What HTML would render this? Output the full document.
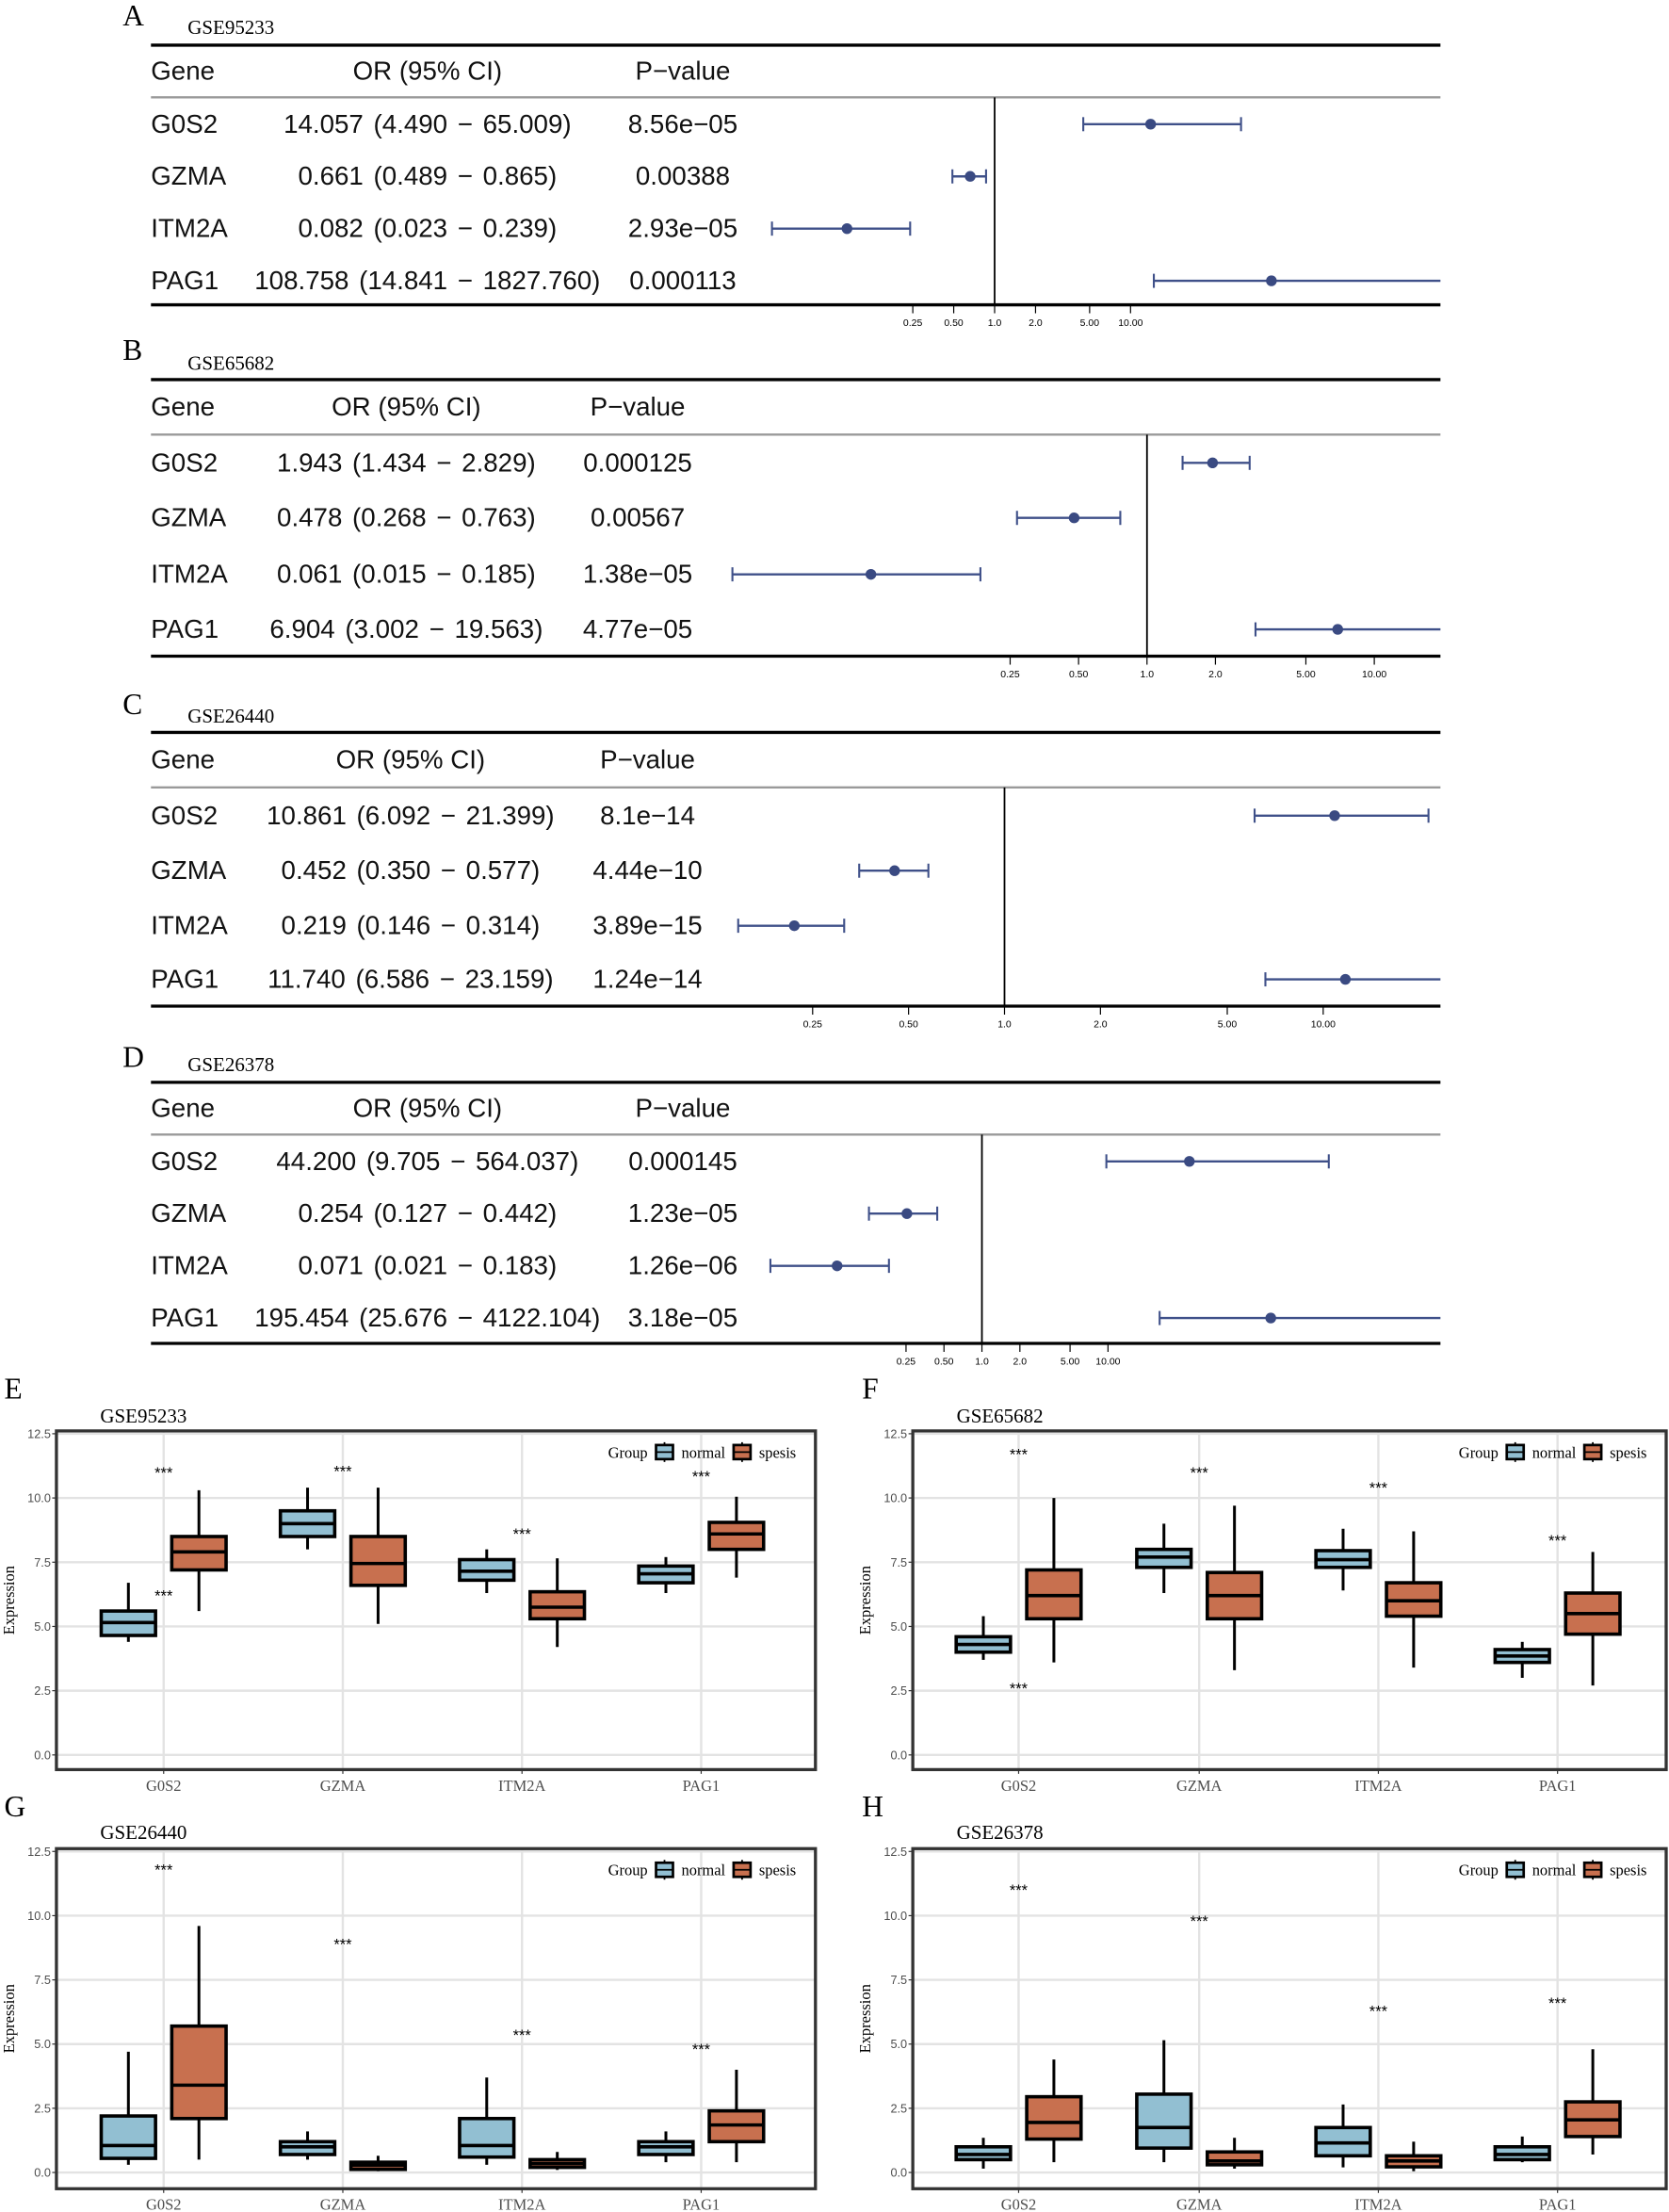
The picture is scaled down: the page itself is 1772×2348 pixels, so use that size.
<!DOCTYPE html>
<html><head><meta charset="utf-8">
<style>html,body{margin:0;padding:0;background:#fff;}svg{display:block;}</style>
</head><body>
<svg id="fig" xmlns="http://www.w3.org/2000/svg" width="1772" height="2348" viewBox="0 0 1183 1567.5" preserveAspectRatio="none"></svg>
<script>
// ---------- Forest plot data ----------
const genes = ["G0S2","GZMA","ITM2A","PAG1"];
const forestTitles = ["GSE95233","GSE65682","GSE26440","GSE26378"];
const forestLetters = ["A","B","C","D"];
const orA = [14.057,0.661,0.082,108.758], loA = [4.490,0.489,0.023,14.841], hiA = [65.009,0.865,0.239,1827.760];
const orB = [1.943,0.478,0.061,6.904], loB = [1.434,0.268,0.015,3.002], hiB = [2.829,0.763,0.185,19.563];
const orC = [10.861,0.452,0.219,11.740], loC = [6.092,0.350,0.146,6.586], hiC = [21.399,0.577,0.314,23.159];
const orD = [44.200,0.254,0.071,195.454], loD = [9.705,0.127,0.021,25.676], hiD = [564.037,0.442,0.183,4122.104];
const orTextA = ["14.057 (4.490 − 65.009)","0.661 (0.489 − 0.865)","0.082 (0.023 − 0.239)","108.758 (14.841 − 1827.760)"];
const orTextB = ["1.943 (1.434 − 2.829)","0.478 (0.268 − 0.763)","0.061 (0.015 − 0.185)","6.904 (3.002 − 19.563)"];
const orTextC = ["10.861 (6.092 − 21.399)","0.452 (0.350 − 0.577)","0.219 (0.146 − 0.314)","11.740 (6.586 − 23.159)"];
const orTextD = ["44.200 (9.705 − 564.037)","0.254 (0.127 − 0.442)","0.071 (0.021 − 0.183)","195.454 (25.676 − 4122.104)"];
const pA = ["8.56e−05","0.00388","2.93e−05","0.000113"];
const pB = ["0.000125","0.00567","1.38e−05","4.77e−05"];
const pC = ["8.1e−14","4.44e−10","3.89e−15","1.24e−14"];
const pD = ["0.000145","1.23e−05","1.26e−06","3.18e−05"];
const forestTicks = [0.25,0.5,1,2,5,10];
const forestTickLabels = ["0.25","0.50","1.0","2.0","5.00","10.00"];

// ---------- Box plot data: [whiskerLow, q1, median, q3, whiskerHigh] ----------
const boxCats = ["G0S2","GZMA","ITM2A","PAG1"];
const boxTitles = ["GSE95233","GSE65682","GSE26440","GSE26378"];
const boxLetters = ["E","F","G","H"];
const yTicks = [0,2.5,5,7.5,10,12.5];
const yTickLabels = ["0.0","2.5","5.0","7.5","10.0","12.5"];
const normalE = [[4.4,4.65,5.15,5.6,6.7],[8.0,8.5,9.0,9.5,10.4],[6.3,6.8,7.15,7.6,8.0],[6.3,6.7,7.05,7.35,7.7]];
const spesisE = [[5.6,7.2,7.9,8.5,10.3],[5.1,6.6,7.45,8.5,10.4],[4.2,5.3,5.75,6.35,7.65],[6.9,8.0,8.6,9.05,10.05]];
const normalF = [[3.7,4.0,4.3,4.6,5.4],[6.3,7.3,7.7,8.0,9.0],[6.4,7.3,7.6,7.95,8.8],[3.0,3.6,3.85,4.1,4.4]];
const spesisF = [[3.6,5.3,6.2,7.2,10.0],[3.3,5.3,6.2,7.1,9.7],[3.4,5.4,6.0,6.7,8.7],[2.7,4.7,5.5,6.3,7.9]];
const normalG = [[0.3,0.55,1.05,2.2,4.7],[0.5,0.7,1.0,1.2,1.6],[0.3,0.6,1.05,2.1,3.7],[0.4,0.7,1.0,1.2,1.6]];
const spesisG = [[0.5,2.1,3.4,5.7,9.6],[0.05,0.12,0.28,0.4,0.65],[0.1,0.2,0.35,0.5,0.8],[0.4,1.2,1.85,2.4,4.0]];
const normalH = [[0.15,0.5,0.7,1.0,1.35],[0.4,0.95,1.75,3.05,5.15],[0.2,0.65,1.15,1.75,2.65],[0.4,0.5,0.7,1.0,1.4]];
const spesisH = [[0.4,1.3,1.95,2.95,4.4],[0.15,0.3,0.45,0.8,1.35],[0.05,0.22,0.45,0.65,1.2],[0.7,1.4,2.05,2.75,4.8]];
const starsE = [11.0,11.05,8.6,10.85];
const starsF = [11.7,11.0,10.4,8.35];
const starsG = [11.8,8.9,5.35,4.8];
const starsH = [11.0,9.8,6.3,6.6];
const extraStarE = 6.2, extraStarF = 2.6;

const NS = "http://www.w3.org/2000/svg";
const svg = document.getElementById("fig");
function mk(tag, attrs, parent){
  const e = document.createElementNS(NS, tag);
  for (const k in attrs) e.setAttribute(k, attrs[k]);
  (parent||svg).appendChild(e);
  return e;
}
function txt(s, attrs, parent){ const t = mk("text", attrs, parent); t.textContent = s; return t; }

// ---------- Forest panels ----------
const forestLayout = [
  {top:32, ref:705, pxPerLog2:29,  orX:303, pX:484, letterY:18, titleY:24, rows:[88,125,162,199], gray:69, bottom:216},
  {top:269, ref:813, pxPerLog2:48.5, orX:288, pX:452, letterY:255, titleY:262, rows:[328,367,407,446], gray:308, bottom:465},
  {top:519, ref:712, pxPerLog2:68, orX:291, pX:459, letterY:506, titleY:512, rows:[578,617,656,694], gray:558, bottom:713},
  {top:767, ref:696, pxPerLog2:26.9, orX:303, pX:484, letterY:756, titleY:759, rows:[823,860,897,934], gray:804, bottom:952}
];
const forestData = [
  [orA,loA,hiA,orTextA,pA],[orB,loB,hiB,orTextB,pB],[orC,loC,hiC,orTextC,pC],[orD,loD,hiD,orTextD,pD]
];
const FL = 107, FR = 1021;
forestLayout.forEach((L, i) => {
  const g = mk("g", {});
  
  
  const xs = v => L.ref + Math.log2(v) * L.pxPerLog2;
  const clip = x => Math.max(FL, Math.min(FR, x));
  const let_ = txt(forestLetters[i], {x:87, y:L.letterY, "font-family":"Liberation Serif, serif", "font-size":21}, g);
  
  
  const tt = txt(forestTitles[i], {x:133, y:L.titleY, "font-family":"Liberation Serif, serif", "font-size":14}, g);
  
  
  mk("line", {x1:FL, x2:FR, y1:L.top, y2:L.top, stroke:"#000", "stroke-width":2.2}, g);
  mk("line", {x1:FL, x2:FR, y1:L.gray, y2:L.gray, stroke:"#9a9a9a", "stroke-width":1.6}, g);
  mk("line", {x1:FL, x2:FR, y1:L.bottom, y2:L.bottom, stroke:"#000", "stroke-width":2.2}, g);
  const hy = (L.top + L.gray)/2 + 6;
  const sf = {"font-family":"Liberation Sans, sans-serif", "font-size":18.5, fill:"#111"};
  const h1 = txt("Gene", Object.assign({x:FL, y:hy}, sf), g);
  
  
  const h2 = txt("OR (95% CI)", Object.assign({x:L.orX, y:hy, "text-anchor":"middle"}, sf), g);
  
  
  const h3 = txt("P−value", Object.assign({x:L.pX, y:hy, "text-anchor":"middle"}, sf), g);
  
  
  mk("line", {x1:L.ref, x2:L.ref, y1:L.gray, y2:L.bottom, stroke:"#000", "stroke-width":1.2}, g);
  const [ors, los, his, orT, ps] = forestData[i];
  genes.forEach((gn, r) => {
    const y = L.rows[r];
    const a = txt(gn, Object.assign({x:FL, y:y+6}, sf), g);
    
    
    const b = txt(orT[r], Object.assign({x:L.orX, y:y+6, "text-anchor":"middle", "word-spacing":2}, sf), g);
    
    
    const c = txt(ps[r], Object.assign({x:L.pX, y:y+6, "text-anchor":"middle"}, sf), g);
    
    
    const x1 = clip(xs(los[r])), x2 = clip(xs(his[r]));
    const ci = mk("line", {x1:x1, x2:x2, y1:y, y2:y, stroke:"#3f5089", "stroke-width":1.6}, g);
    
    
    if (xs(los[r]) >= FL) mk("line", {x1:x1, x2:x1, y1:y-5, y2:y+5, stroke:"#3f5089", "stroke-width":1.4}, g);
    if (xs(his[r]) <= FR-5) mk("line", {x1:x2, x2:x2, y1:y-5, y2:y+5, stroke:"#3f5089", "stroke-width":1.4}, g);
    else ci.setAttribute('x2', FR);
    const pt = mk("circle", {cx:clip(xs(ors[r])), cy:y, r:3.8, fill:"#3a4a82"}, g);
    
    
  });
  forestTicks.forEach((t, k) => {
    const x = xs(t);
    mk("line", {x1:x, x2:x, y1:L.bottom, y2:L.bottom+6, stroke:"#000", "stroke-width":0.8}, g);
    const tl = txt(forestTickLabels[k], {x:x, y:L.bottom+15, "text-anchor":"middle", "font-family":"Liberation Sans, sans-serif", "font-size":7}, g);
    
    
  });
});

// ---------- Box plots ----------
const boxLayout = [
  {left:40, right:578, top:1014, bottom:1254, y0:1243.6, y125:1016, cats:[116,243,370,497], letterX:3, letterY:991, titleY:1008},
  {left:647, right:1181, top:1014, bottom:1254, y0:1243.6, y125:1016, cats:[722,850,977,1104], letterX:611, letterY:991, titleY:1008},
  {left:40, right:578, top:1310, bottom:1551, y0:1539.5, y125:1312, cats:[116,243,370,497], letterX:3, letterY:1287, titleY:1303},
  {left:647, right:1181, top:1310, bottom:1551, y0:1539.5, y125:1312, cats:[722,850,977,1104], letterX:611, letterY:1287, titleY:1303}
];
const boxData = [[normalE,spesisE,starsE],[normalF,spesisF,starsF],[normalG,spesisG,starsG],[normalH,spesisH,starsH]];
const NORMAL = "#92bfd2", SPESIS = "#c8704f";
boxLayout.forEach((L, i) => {
  const g = mk("g", {});
  
  
  const ys = v => L.y0 - v * (L.y0 - L.y125) / 12.5;
  const lt = txt(boxLetters[i], {x:L.letterX, y:L.letterY, "font-family":"Liberation Serif, serif", "font-size":21}, g);
  
  
  const tt = txt(boxTitles[i], {x:L.left + 31, y:L.titleY, "font-family":"Liberation Serif, serif", "font-size":14}, g);
  
  
  yTicks.forEach((t, k) => {
    mk("line", {x1:L.left, x2:L.right, y1:ys(t), y2:ys(t), stroke:"#e3e3e3", "stroke-width":1.6}, g);
    mk("line", {x1:L.left-3, x2:L.left, y1:ys(t), y2:ys(t), stroke:"#333", "stroke-width":0.8}, g);
    const yl = txt(yTickLabels[k], {x:L.left-4, y:ys(t)+3, "text-anchor":"end", "font-family":"Liberation Sans, sans-serif", "font-size":8.5, fill:"#4d4d4d"}, g);
    
    
  });
  L.cats.forEach((cx, k) => {
    mk("line", {x1:cx, x2:cx, y1:L.top, y2:L.bottom, stroke:"#e3e3e3", "stroke-width":1.6}, g);
    mk("line", {x1:cx, x2:cx, y1:L.bottom, y2:L.bottom+3, stroke:"#333", "stroke-width":0.8}, g);
    const xl = txt(boxCats[k], {x:cx, y:L.bottom+15, "text-anchor":"middle", "font-family":"Liberation Serif, serif", "font-size":11, fill:"#4d4d4d"}, g);
    
    
  });
  const yt = txt("Expression", {x:0, y:0, transform:`translate(${L.left-30},${(L.top+L.bottom)/2}) rotate(-90)`, "text-anchor":"middle", "font-family":"Liberation Serif, serif", "font-size":11}, g);
  
  
  const [nrm, sps, stars] = boxData[i];
  const bw = 38.5, off = 25;
  const drawBox = (s, cx, fill, nm) => {
    const bg = mk("g", {}, g);
    
    
    mk("line", {x1:cx, x2:cx, y1:ys(s[0]), y2:ys(s[4]), stroke:"#000", "stroke-width":2}, bg);
    mk("rect", {x:cx-bw/2, y:ys(s[3]), width:bw, height:ys(s[1])-ys(s[3]), fill:fill, stroke:"#000", "stroke-width":2.4}, bg);
    mk("line", {x1:cx-bw/2, x2:cx+bw/2, y1:ys(s[2]), y2:ys(s[2]), stroke:"#000", "stroke-width":2.4}, bg);
  };
  L.cats.forEach((cx, k) => {
    drawBox(nrm[k], cx-off, NORMAL, 'box-normal-' + boxCats[k].toLowerCase());
    drawBox(sps[k], cx+off, SPESIS, 'box-spesis-' + boxCats[k].toLowerCase());
    const st = txt("***", {x:cx, y:ys(stars[k])+4, "text-anchor":"middle", "font-family":"Liberation Sans, sans-serif", "font-size":11}, g);
    
    
  });
  if (i === 0 || i === 1) {
    const ev = i === 0 ? extraStarE : extraStarF;
    const st2 = txt("***", {x:L.cats[0], y:ys(ev)+4, "text-anchor":"middle", "font-family":"Liberation Sans, sans-serif", "font-size":11}, g);
    
    
  }
  mk("rect", {x:L.left, y:L.top, width:L.right-L.left, height:L.bottom-L.top, fill:"none", stroke:"#333", "stroke-width":2.2}, g);
  const lg = mk("g", {}, g);
  
  
  const lx = L.right - 147, ly = L.top + 15;
  const lf = {"font-family":"Liberation Serif, serif", "font-size":11};
  txt("Group", Object.assign({x:lx, y:ly+4}, lf), lg);
  const key = (x, fill) => {
    mk("line", {x1:x+6, x2:x+6, y1:ly-7, y2:ly+7, stroke:"#000", "stroke-width":1.2}, lg);
    mk("rect", {x:x, y:ly-5, width:12, height:10, fill:fill, stroke:"#000", "stroke-width":1.8}, lg);
    mk("line", {x1:x, x2:x+12, y1:ly, y2:ly, stroke:"#000", "stroke-width":1.2}, lg);
  };
  key(lx+34, NORMAL);
  txt("normal", Object.assign({x:lx+52, y:ly+4}, lf), lg);
  key(lx+89, SPESIS);
  txt("spesis", Object.assign({x:lx+107, y:ly+4}, lf), lg);
});
</script>
</body></html>
